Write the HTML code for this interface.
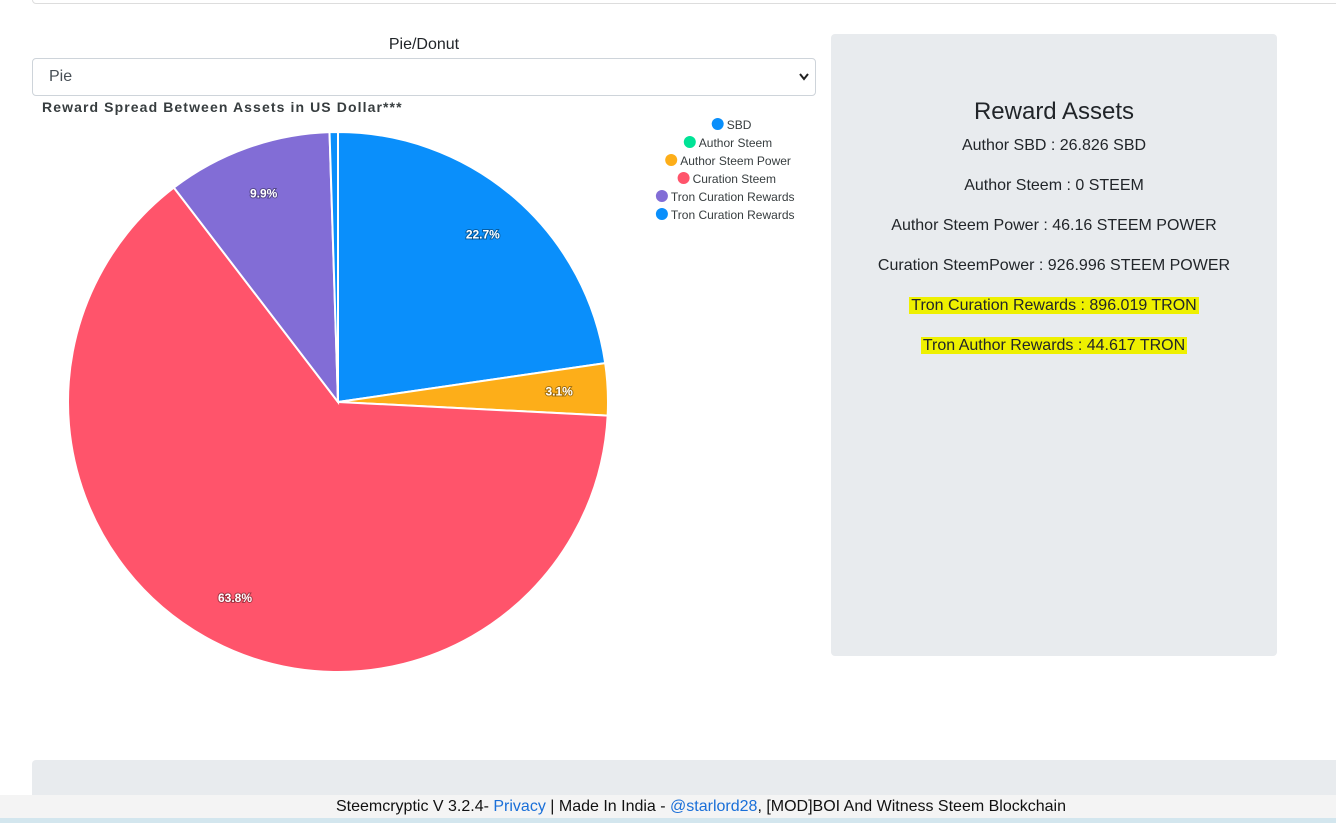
<!DOCTYPE html>
<html><head><meta charset="utf-8"><style>
body{margin:0;width:1336px;height:823px;overflow:hidden;background:#fff;font-family:"Liberation Sans",sans-serif;position:relative}
.abs{position:absolute}
</style></head><body>
<div class="abs" style="left:32px;top:-10px;width:1310px;height:12px;border:1px solid #ddd;border-radius:4px"></div>
<div class="abs" style="left:32px;top:36px;width:784px;text-align:center;font-size:16px;color:#212529">Pie/Donut</div>
<div class="abs" style="left:32px;top:58px;width:782px;height:36px;border:1px solid #ced4da;border-radius:4px;box-sizing:content-box">
<span style="position:absolute;left:16px;top:9px;font-size:16px;color:#495057">Pie</span>
<svg style="position:absolute;right:6px;top:14px" width="10" height="8"><path d="M1 1 L5 6 L9 1" stroke="#222" stroke-width="2" fill="none"/></svg></div>
<div class="abs" style="left:42px;top:99px;font-size:14px;font-weight:bold;color:#373d3f;letter-spacing:1.1px">Reward Spread Between Assets in US Dollar***</div>
<svg class="abs" style="left:0;top:0" width="830" height="700" id="pie"></svg>
<div class="abs" style="left:831px;top:34px;width:446px;height:622px;background:#e8ebee;border-radius:4px;text-align:center;color:#212529">
<div style="margin-top:64px;font-size:24px">Reward Assets</div>
<div style="margin-top:10px;font-size:16px;line-height:20px">Author SBD : 26.826 SBD</div>
<div style="margin-top:20px;font-size:16px;line-height:20px">Author Steem : 0 STEEM</div>
<div style="margin-top:20px;font-size:16px;line-height:20px">Author Steem Power : 46.16 STEEM POWER</div>
<div style="margin-top:20px;font-size:16px;line-height:20px">Curation SteemPower : 926.996 STEEM POWER</div>
<div style="margin-top:20px;font-size:16px;line-height:20px"><span style="background:#eef000;padding:0 2px">Tron Curation Rewards : 896.019 TRON</span></div>
<div style="margin-top:20px;font-size:16px;line-height:20px"><span style="background:#eef000;padding:0 2px">Tron Author Rewards : 44.617 TRON</span></div>
</div>
<div class="abs" style="left:32px;top:760px;width:1320px;height:60px;background:#e8ebee;border-radius:4px"></div>
<div class="abs" style="left:0;top:795px;width:1336px;height:23px;background:#f4f4f4;text-align:center;font-size:16px;line-height:23px;color:#111;padding-left:66px;box-sizing:border-box">Steemcryptic V 3.2.4- <span style="color:#1a6fd8">Privacy</span> | Made In India - <span style="color:#1a6fd8">@starlord28</span>, [MOD]BOI And Witness Steem Blockchain</div>
<div class="abs" style="left:0;top:818px;width:1336px;height:5px;background:#d3e6ee"></div>
<script>
const categories=["SBD","Author Steem","Author Steem Power","Curation Steem","Tron Curation Rewards","Tron Curation Rewards"];
const values=[22.7,0,3.1,63.8,9.9,0.5];
const colors=["#0a8ffb","#00e396","#fdae19","#ff546b","#826dd6","#0a8ffb"];
const svg=document.getElementById('pie');const NS="http://www.w3.org/2000/svg";
const cx=338,cy=402,R=270;const total=values.reduce((a,b)=>a+b,0);
function pt(a,r){return [cx+r*Math.sin(a),cy-r*Math.cos(a)];}
let ang=0;
values.forEach((v,i)=>{
 const sw=v/total*2*Math.PI;
 if(v>0){
  const [x1,y1]=pt(ang,R),[x2,y2]=pt(ang+sw,R);
  const p=document.createElementNS(NS,'path');
  p.setAttribute('d',`M${cx} ${cy} L${x1} ${y1} A${R} ${R} 0 ${sw>Math.PI?1:0} 1 ${x2} ${y2} Z`);
  p.setAttribute('fill',colors[i]);p.setAttribute('stroke','#fff');p.setAttribute('stroke-width','2');
  
  
  svg.appendChild(p);
  if(v>=2){
   const [lx,ly]=pt(ang+sw/2,R*0.82);
   const t=document.createElementNS(NS,'text');
   t.setAttribute('x',lx);t.setAttribute('y',ly+4);t.setAttribute('text-anchor','middle');
   t.setAttribute('font-size','12');t.setAttribute('font-weight','bold');t.setAttribute('fill','#fff');
   t.setAttribute('style','paint-order:stroke;stroke:rgba(0,0,0,0.35);stroke-width:2px');
   
   
   t.textContent=v.toFixed(1)+'%';svg.appendChild(t);
  }
 }
 ang+=sw;
});
const lyStart=125;
categories.forEach((c,i)=>{
 const y=lyStart+i*18;
 const tw=c.length*6.2;const startX=733-(tw+12)/2;
 const g=document.createElementNS(NS,'g');
 
 
 const ci=document.createElementNS(NS,'circle');ci.setAttribute('cx',startX);ci.setAttribute('cy',y-1);ci.setAttribute('r',6);ci.setAttribute('fill',colors[i]);
 const t=document.createElementNS(NS,'text');t.setAttribute('x',startX+9);t.setAttribute('y',y+4);t.setAttribute('font-size','12');t.setAttribute('fill','#373d3f');t.textContent=c;
 g.appendChild(ci);g.appendChild(t);svg.appendChild(g);
});
</script>
</body></html>
